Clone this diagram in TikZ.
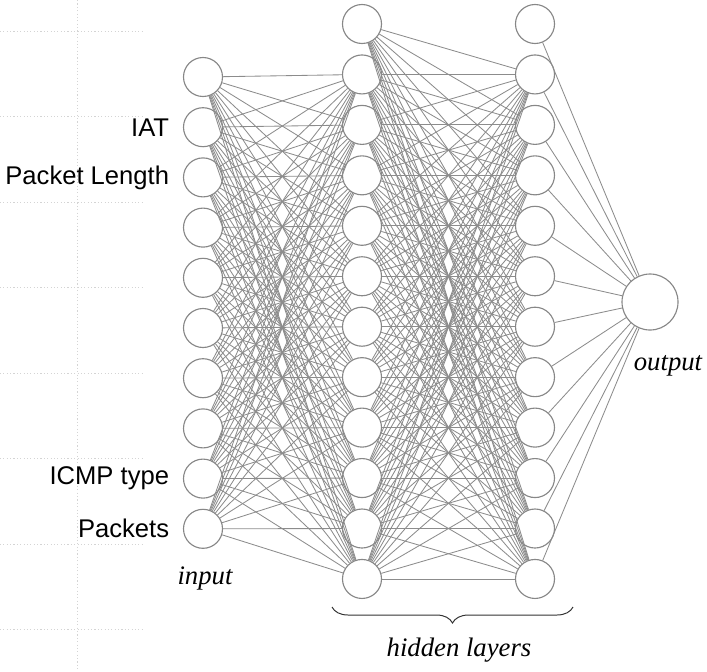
\documentclass[tikz,border=0pt]{standalone}
\usepackage{fontspec}
\usepackage{tikz}
\usetikzlibrary{positioning,decorations.pathreplacing}

\newfontfamily\featurefont{Liberation Sans}
\newfontfamily\layerfont{Liberation Serif}
\definecolor{nodegray}{RGB}{135,135,135}
\definecolor{linegray}{RGB}{140,140,140}
\definecolor{gridgray}{RGB}{212,212,212}

\begin{document}
\begin{tikzpicture}[
	x=0.025cm, y=-0.025cm,
	neuron/.style={circle, draw=nodegray, fill=white, line width=0.8pt,
		minimum size=0.975cm, inner sep=0pt},
	outneuron/.style={neuron, minimum size=1.4cm},
	conn/.style={draw=linegray, line width=0.6pt},
	feature/.style={anchor=east, inner sep=0pt,
		font=\featurefont\fontsize{18.2}{22}\selectfont},
	layername/.style={inner sep=0pt, font=\layerfont\itshape\fontsize{19}{23}\selectfont},
	gridline/.style={draw=gridgray, line width=0.7pt, dash pattern=on 0.8pt off 1.6pt}
	]
	\useasboundingbox (0,0) rectangle (707,671);

	% faint page grid
	\draw[gridline] (77,0) -- (77,671);
	\foreach \k in {0,...,7}
		\draw[gridline] (0,{31+85.5*\k}) -- (142,{31+85.5*\k});

	% layers
	\foreach \i in {1,...,10}
		\node[neuron] (in\i) at (203,{77+50.2*(\i-1)}) {};
	\foreach \j in {1,...,12}{
		\node[neuron] (ha\j) at (362,{24+50.45*(\j-1)}) {};
		\node[neuron] (hb\j) at (535,{24+50.45*(\j-1)}) {};
	}
	\node[outneuron] (out) at (650,302) {};

	% weights
	\foreach \i in {1,...,10}
		\foreach \j in {2,...,12}
			\draw[conn] (in\i) -- (ha\j);
	\foreach \j in {1,...,12}
		\foreach \k in {2,...,12}
			\draw[conn] (ha\j) -- (hb\k);
	\foreach \k in {1,...,12}
		\draw[conn] (hb\k) -- (out);

	% feature names
	\node[feature, left=0.34cm of in2] (fiat) {IAT};
	\node[feature, left=0.34cm of in3] (flen) {Packet Length};
	\node[feature, left=0.34cm of in9] (ficmp) {ICMP type};
	\node[feature, left=0.34cm of in10] (fpkt) {Packets};

	% layer names
	\node[layername] (inlabel) at (205,578) {input};
	\node[layername] (outlabel) at (668,366) {output};
	\coordinate (braceL) at (332,607);
	\coordinate (braceR) at (573,607);
	\draw[decorate, decoration={brace, mirror, amplitude=0.4cm},
		draw=black!80, line width=0.7pt] (braceL) -- (braceR);
	\node[layername] (hidlabel) at (459,650) {hidden layers};
\end{tikzpicture}
\end{document}
